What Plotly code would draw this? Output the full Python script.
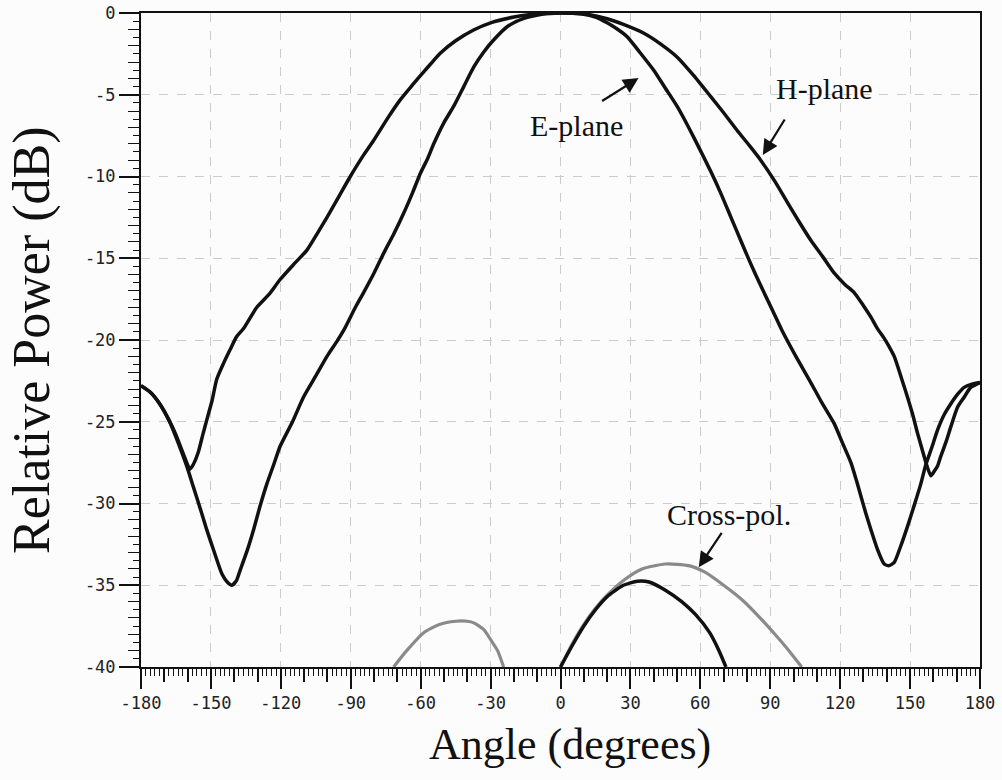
import plotly.graph_objects as go

# Measured radiation pattern: angle (degrees) and relative power (dB)
e_angle = [-180, -176, -172, -168, -164, -160.4, -157.5, -154.6, -151.8, -148.5, -145.3, -143, -141,
           -139, -137.5, -134.5, -131.7, -129, -126, -123, -120.3, -115, -110.3, -105, -100.2, -96,
           -93, -88, -84.5, -80, -75.9, -71.5, -67.3, -63.5, -60.1, -57, -54.4, -50, -45.8, -41.5,
           -37.2, -33, -29, -22.9, -16, -8, 0, 5, 10, 15, 20, 24, 28.6, 34, 40, 45, 50, 55, 60,
           64.5, 68.7, 73, 77.3, 81.5, 86, 91, 95, 101, 107.4, 112, 117.4, 121, 124.6, 127, 129,
           131, 133.2, 136, 138.9, 141, 143.2, 146, 148.9, 151.8, 154.6, 156.8, 159.5, 161.8,
           164.5, 167.5, 170.5, 173.2, 176.5, 180]
e_power = [-22.8, -23.2, -23.9, -24.9, -26.3, -27.7, -29.0, -30.3, -31.6, -33.0, -34.3, -34.8, -35.0,
           -34.7, -34.1, -32.9, -31.6, -30.2, -28.8, -27.6, -26.5, -25.0, -23.5, -22.2, -21.0, -20.1,
           -19.4, -18.0, -17.1, -15.9, -14.7, -13.5, -12.25, -11.0, -9.8, -8.9, -8.0, -6.7, -5.7, -4.5,
           -3.3, -2.4, -1.7, -0.84, -0.35, -0.08, 0, -0.02, -0.08, -0.25, -0.6, -0.95, -1.45, -2.4,
           -3.5, -4.6, -5.7, -7.0, -8.4, -9.7, -11.0, -12.45, -13.9, -15.3, -16.7, -18.2, -19.4,
           -21.0, -22.6, -23.8, -25.1, -26.3, -27.5, -28.6, -29.6, -30.6, -31.6, -32.8, -33.7,
           -33.8, -33.6, -32.6, -31.4, -30.1, -28.8, -27.6, -26.5, -25.5, -24.6, -23.9, -23.3,
           -22.9, -22.7, -22.6]

h_angle = [-180, -176, -172, -168, -165, -162, -159, -157.5, -155.5, -153.5, -151.8, -149.5, -147.5,
           -144.5, -141.8, -139, -136, -130.3, -125, -120.3, -114, -108.8, -104, -100.2, -95, -90.2,
           -85, -80.2, -74, -68.7, -63.5, -58.7, -55, -51.5, -45, -37.3, -30, -20, -10, 0, 10, 20,
           27, 35.8, 43, 50.1, 57, 64.4, 70, 75.9, 81, 85.9, 92, 97.4, 102.5, 107.4, 112.5, 117.4,
           122, 126, 130, 133.2, 136, 138.9, 141, 143.2, 146, 148.9, 151, 153.2, 155, 156.8, 158.9,
           160.5, 161.8, 163.2, 165.5, 167.5, 170.4, 173.2, 176, 180]
h_power = [-22.8, -23.2, -23.9, -24.9, -25.8, -26.9, -27.9, -27.6, -26.9, -25.8, -24.9, -23.7, -22.4,
           -21.4, -20.6, -19.8, -19.3, -18.0, -17.2, -16.3, -15.3, -14.5, -13.4, -12.5, -11.2, -10.0,
           -8.8, -7.8, -6.4, -5.3, -4.4, -3.6, -3.0, -2.45, -1.7, -1.04, -0.6, -0.25, -0.05, 0,
           -0.05, -0.35, -0.7, -1.24, -1.9, -2.7, -3.8, -5.1, -6.1, -7.2, -8.1, -9.0, -10.3, -11.6,
           -12.8, -13.9, -14.9, -15.9, -16.6, -17.1, -17.9, -18.6, -19.3, -19.9, -20.4, -21.0,
           -22.2, -23.5, -24.5, -25.7, -26.6, -27.5, -28.3, -28.0, -27.7, -27.1, -26.2, -25.3,
           -24.1, -23.5, -22.9, -22.6]

# Cross-polar levels (grey lobes and the black lobe)
xp_grey_left_angle = [-71.6, -66, -58.7, -52, -45, -40, -37.2, -33, -30.1, -27, -24.4]
xp_grey_left_power = [-40, -39.0, -37.9, -37.4, -37.2, -37.2, -37.3, -37.7, -38.3, -39.0, -40]
xp_grey_right_angle = [0, 5, 10, 15, 20, 28, 35, 45, 55, 62, 70, 78, 85, 92, 98, 103.5]
xp_grey_right_power = [-40, -38.6, -37.4, -36.4, -35.6, -34.6, -34.0, -33.7, -33.8, -34.2, -35.0,
                       -35.9, -36.9, -38.0, -39.0, -40]
xp_black_angle = [0, 5, 10, 15, 20, 27, 33, 38, 45, 52, 58, 64, 68, 71]
xp_black_power = [-40, -38.7, -37.5, -36.5, -35.7, -35.0, -34.75, -34.8, -35.3, -36.0, -36.8,
                  -37.9, -39.0, -40]

x_ticks = [-180, -150, -120, -90, -60, -30, 0, 30, 60, 90, 120, 150, 180]
y_ticks = [0, -5, -10, -15, -20, -25, -30, -35, -40]

serif = "Liberation Serif, Times New Roman, serif"
mono = "DejaVu Sans Mono, monospace"

fig = go.Figure()


def curve(xs, ys, color, width, xaxis="x", yaxis="y"):
    fig.add_trace(go.Scatter(x=xs, y=ys, mode="lines", xaxis=xaxis, yaxis=yaxis,
                             line=dict(color=color, width=width, shape="spline", smoothing=0.6),
                             cliponaxis=False, showlegend=False, hoverinfo="skip"))


curve(h_angle, h_power, "#111111", 3.5)
curve(e_angle, e_power, "#111111", 3.5)
curve(xp_grey_left_angle, xp_grey_left_power, "#8a8a8a", 3.2)
curve(xp_grey_right_angle, xp_grey_right_power, "#8a8a8a", 3.2)
curve(xp_black_angle, xp_black_power, "#111111", 3.5)

# invisible trace on the secondary axes so the intermediate tick marks are drawn
fig.add_trace(go.Scatter(x=[0], y=[-20], xaxis="x2", yaxis="y2", mode="markers",
                         marker=dict(opacity=0), showlegend=False, hoverinfo="skip"))

grid = dict(showgrid=True, gridcolor="#cccccc", gridwidth=1, griddash="dash")

fig.update_layout(
    width=1002, height=780,
    margin=dict(l=141, r=22, t=13, b=113),
    paper_bgcolor="#fcfcfc", plot_bgcolor="#fcfcfc",
    xaxis=dict(range=[-180, 180], tickvals=x_ticks, ticktext=[str(v) for v in x_ticks],
               ticks="outside", ticklen=20, tickwidth=1.5, tickcolor="#111",
               showline=True, linecolor="#111", linewidth=2, mirror=True, automargin=False,
               zeroline=False, tickfont=dict(family=mono, size=17, color="#222"),
               minor=dict(dtick=2, ticklen=7, tickwidth=1.3, tickcolor="#111", ticks="outside",
                          showgrid=False),
               **grid),
    yaxis=dict(range=[-40, 0], tickvals=y_ticks, ticktext=[str(v) for v in y_ticks],
               ticks="outside", ticklen=20, tickwidth=1.5, tickcolor="#111",
               showline=True, linecolor="#111", linewidth=2, mirror=True, automargin=False,
               zeroline=False, tickfont=dict(family=mono, size=17, color="#222"),
               minor=dict(dtick=0.5, ticklen=6, tickwidth=1.3, tickcolor="#111", ticks="outside",
                          showgrid=False),
               **grid),
    xaxis2=dict(overlaying="x", matches="x", anchor="y2", side="bottom", dtick=10, tick0=0,
                ticks="outside", ticklen=14, tickwidth=1.5, tickcolor="#111",
                showticklabels=False, showgrid=False, zeroline=False, showline=False),
    yaxis2=dict(overlaying="y", matches="y", anchor="x2", side="left", dtick=1, tick0=0,
                ticks="outside", ticklen=12, tickwidth=1.3, tickcolor="#111",
                showticklabels=False, showgrid=False, zeroline=False, showline=False),
)

# axis titles
fig.add_annotation(text="Angle (degrees)", xref="paper", yref="paper", x=0.511, y=-0.119,
                   showarrow=False, font=dict(family=serif, size=44, color="#111"),
                   xanchor="center", yanchor="middle")
fig.add_annotation(text="Relative Power (dB)", xref="paper", yref="paper", x=-0.13, y=0.5,
                   textangle=-90, showarrow=False, font=dict(family=serif, size=52, color="#111"),
                   xanchor="center", yanchor="middle")

# curve labels and pointer arrows
labels = [("E-plane", 6.9, -6.9), ("H-plane", 113.4, -4.6), ("Cross-pol.", 72.2, -30.7)]
for text, lx, ly in labels:
    fig.add_annotation(text=text, x=lx, y=ly, showarrow=False,
                       font=dict(family=serif, size=30, color="#111"))

arrows = [(17.2, -5.44, 33.5, -3.98), (96.6, -6.42, 86.8, -8.69), (69.6, -31.7, 59.3, -33.9)]
for tx, ty, hx, hy in arrows:
    fig.add_annotation(text="", x=hx, y=hy, ax=tx, ay=ty, axref="x", ayref="y",
                       showarrow=True, arrowhead=2, arrowsize=1.4, arrowwidth=2.2,
                       arrowcolor="#111")

fig.write_html("out.html")
